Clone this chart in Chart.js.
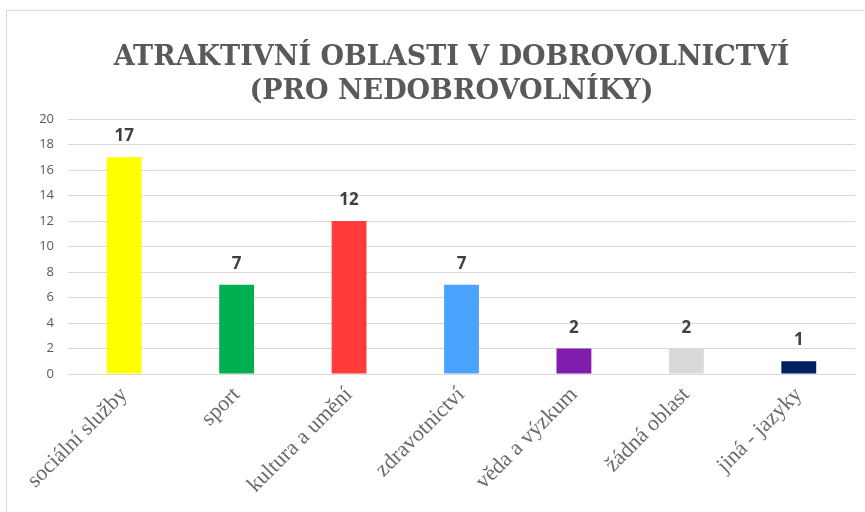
<!DOCTYPE html>
<html><head><meta charset="utf-8">
<script src="https://cdn.jsdelivr.net/npm/chart.js@4/dist/chart.umd.min.js"></script>
<style>
html,body{margin:0;padding:0;background:#fff;width:865px;height:512px;overflow:hidden;}
#frame{position:absolute;left:6px;top:10px;width:891px;height:510px;border:1px solid #d9d9d9;box-sizing:border-box;}
#wrap{position:absolute;left:7px;top:11px;width:889px;height:501px;}
</style></head><body>
<div id="frame"></div>
<div id="wrap"><canvas id="c"></canvas></div>
<script>
const categories = ["sociální služby","sport","kultura a umění","zdravotnictví","věda a výzkum","žádná oblast","jiná - jazyky"];
const values = [17,7,12,7,2,2,1];
const barColors = ["#FFFF00","#00B050","#FF3B3B","#4BA3FF","#7F1CAB","#D9D9D9","#002060"];
const yTicks = [0,2,4,6,8,10,12,14,16,18,20];

const labelPlugin = {
  id:'vals',
  afterLayout(chart){
    const t = chart.titleBlock;
    if (t) { t.left = 0; t.right = chart.width; t.width = chart.width; }
  },
  afterDatasetsDraw(chart){
    const ctx = chart.ctx;
    const meta = chart.getDatasetMeta(0);
    ctx.save();
    ctx.font = 'bold 17px "Open Sans", "Liberation Sans", sans-serif';
    ctx.fillStyle = '#404040';
    ctx.textAlign = 'center';
    ctx.textBaseline = 'alphabetic';
    meta.data.forEach((bar,i)=>{
      ctx.fillText(String(values[i]), bar.x, bar.y - 16);
    });
    ctx.restore();
  }
};

new Chart(document.getElementById('c'), {
  type:'bar',
  data:{labels:categories, datasets:[{data:values, backgroundColor:barColors, barPercentage:0.31, categoryPercentage:1}]},
  options:{
    responsive:true, maintainAspectRatio:false, animation:false,
    layout:{padding:{left:0,right:41,top:0,bottom:0}},
    plugins:{
      legend:{display:false}, tooltip:{enabled:false},
      title:{display:true, text:["ATRAKTIVNÍ OBLASTI V DOBROVOLNICTVÍ","(PRO NEDOBROVOLNÍKY)"],
        color:'#595959', font:{family:'"DejaVu Serif", serif', size:27, weight:'bold', lineHeight:1.26},
        padding:{top:30,bottom:10}}
    },
    scales:{
      y:{min:0,max:20,
        afterBuildTicks(s){ s.ticks = yTicks.map(v=>({value:v})); },
        afterFit(s){ s.width = 61; },
        ticks:{color:'#595959', font:{family:'"Open Sans", "Liberation Sans", sans-serif', size:13}, padding:14},
        grid:{color:'#d9d9d9', drawTicks:false}, border:{display:false}},
      x:{
        afterFit(s){ s.height = 138; },
        ticks:{color:'#6a6a6a', minRotation:45, maxRotation:45, autoSkip:false, font:{family:'"Liberation Serif", serif', size:22}, padding:8},
        grid:{display:false, drawTicks:false}, border:{display:true,color:'#d9d9d9'}}
    }
  },
  plugins:[labelPlugin]
});
</script>
</body></html>
